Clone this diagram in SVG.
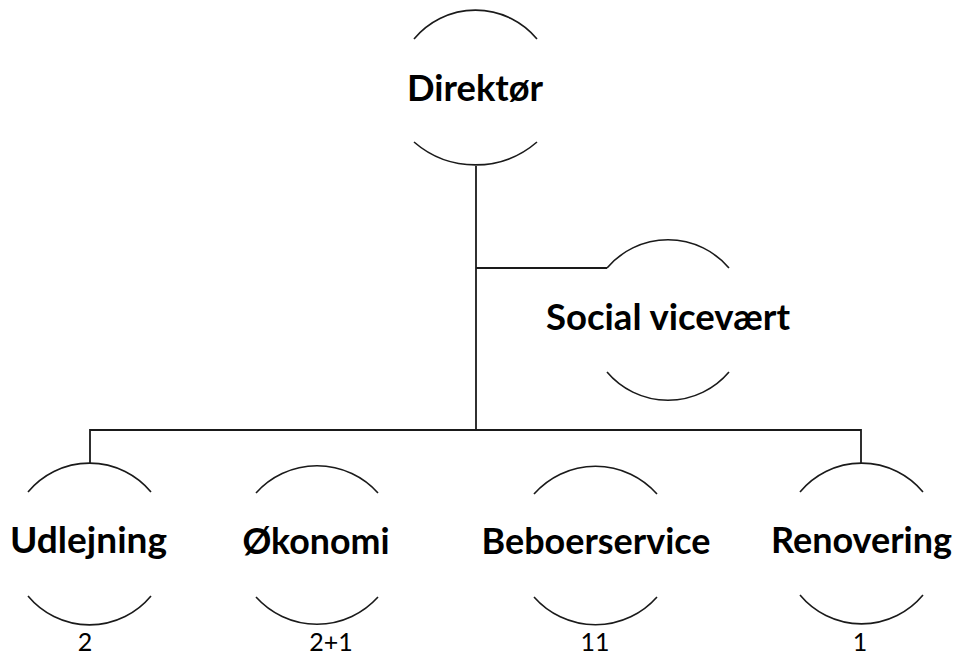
<svg xmlns="http://www.w3.org/2000/svg" width="957" height="659" viewBox="0 0 957 659">
<style>
.arc{fill:none;stroke:#1a1a1a;stroke-width:1.6}
.conn{fill:none;stroke:#1a1a1a;stroke-width:1.8}
.lbl{font-family:Lato,"Open Sans","Liberation Sans",sans-serif;font-weight:bold;font-size:36px;fill:#000;text-anchor:middle}
.num{font-family:Lato,"Open Sans","Liberation Sans",sans-serif;font-size:25px;fill:#000;text-anchor:middle}
</style>
<rect width="957" height="659" fill="#fff"/>
<g id="connectors">
<path class="conn" d="M476,166 V430"/>
<path class="conn" d="M476,268 H607"/>
<path class="conn" d="M90,463 V430 H861 V463"/>
</g>
<g id="direktor">
<path class="arc" d="M414,39 A80,80 0 0 1 537,39"/>
<path class="arc" d="M414,142 A94,94 0 0 0 537,142"/>
<text class="lbl" x="475" y="101" textLength="136" lengthAdjust="spacingAndGlyphs">Direktør</text>
</g>
<g id="social-vicevaert">
<path class="arc" d="M607,268 A80,80 0 0 1 729,268"/>
<path class="arc" d="M607,372 A80,80 0 0 0 729,372"/>
<text class="lbl" x="668" y="330" textLength="244" lengthAdjust="spacingAndGlyphs">Social vicevært</text>
</g>
<g id="udlejning">
<path class="arc" d="M28,492 A80,80 0 0 1 151,492"/>
<path class="arc" d="M28,596 A80,80 0 0 0 151,596"/>
<text class="lbl" x="88.5" y="553" textLength="157" lengthAdjust="spacingAndGlyphs">Udlejning</text>
<text class="num" x="85" y="651">2</text>
</g>
<g id="okonomi">
<path class="arc" d="M256,493 A82,82 0 0 1 378,493"/>
<path class="arc" d="M256,597 A82,82 0 0 0 378,597"/>
<text class="lbl" x="316" y="554" textLength="147" lengthAdjust="spacingAndGlyphs">Økonomi</text>
<text class="num" x="331" y="651">2+1</text>
</g>
<g id="beboerservice">
<path class="arc" d="M534,494 A82,82 0 0 1 657,494"/>
<path class="arc" d="M534,597 A82,82 0 0 0 657,597"/>
<text class="lbl" x="596" y="554" textLength="229" lengthAdjust="spacingAndGlyphs">Beboerservice</text>
<text class="num" x="595" y="651">11</text>
</g>
<g id="renovering">
<path class="arc" d="M800,492 A80,80 0 0 1 923,492"/>
<path class="arc" d="M800,595 A80,80 0 0 0 923,595"/>
<text class="lbl" x="861.5" y="553" textLength="181" lengthAdjust="spacingAndGlyphs">Renovering</text>
<text class="num" x="860" y="651">1</text>
</g>
</svg>
